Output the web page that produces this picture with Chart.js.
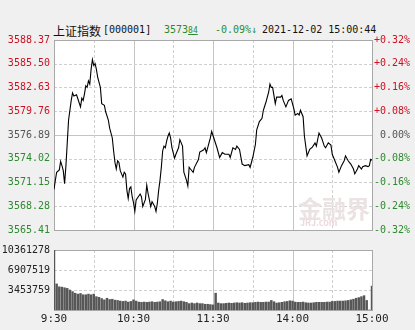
<!DOCTYPE html>
<html>
<head>
<meta charset="utf-8">
<script src="https://cdn.jsdelivr.net/npm/chart.js@4.4.1/dist/chart.umd.min.js"></script>
<style>
  body { margin: 0; background: #f0f0f0; width: 415px; height: 330px; overflow: hidden; position: relative; }
  canvas { position: absolute; left: 0; }
  #priceChart { top: 0; }
  #volChart { top: 240px; }
  .t { position: absolute; top: 24px; font: 10px "DejaVu Sans Mono", monospace; white-space: pre; }
  .cn { font: 12px "Noto Sans CJK SC", sans-serif; top: 22px; }
  .wm { position: absolute; color: #ebe2e3; font-weight: bold; font-family: "Noto Sans CJK SC", sans-serif; }
</style>
</head>
<body>
<div class="t cn" style="left:53px;color:#111">上证指数</div>
<div class="t" style="left:103px;color:#111">[000001]</div>
<div class="t" style="left:164px;color:#2f8a2f">3573<span style="font-size:8px;text-decoration:underline">84</span></div>
<div class="t" style="left:215px;color:#2f8a2f">-0.09%↓</div>
<div class="t" style="left:262px;color:#111">2021-12-02 15:00:44</div>
<canvas id="priceChart" width="415" height="240"></canvas>
<canvas id="volChart" width="415" height="90"></canvas>
<div class="wm" style="left:298px;top:190px;font-size:24px">金融界</div>
<div class="wm" style="left:300px;top:216px;font-size:9px;color:#efd9dc">JRJ.com</div>
<script>
// 上证指数 分时 2021-12-02
const prevClose = 3576.89;
const priceMinutes = [0,1,2,4,5,6,7,8,9,10,11,13,14,15,17,18,20,21,22,23,24,25,26,27,28,29,30,31,32,33,35,36,38,39,41,42,44,45,46,47,48,49,50,52,53,54,55,56,57,58,59,60,61,62,64,65,66,67,69,70,71,72,73,74,76,77,78,79,80,81,82,83,84,85,86,87,88,89,91,92,94,95,97,98,100,101,102,103,105,106,109,110,113,114,115,118,119,120,
  123,125,127,129,132,133,135,137,138,140,142,144,147,148,150,152,153,155,157,158,160,162,163,164,165,167,168,171,172,173,175,177,179,181,182,184,185,186,188,189,191,193,195,197,198,200,202,204,205,207,209,210,212,214,215,217,219,220,222,224,226,227,229,230,232,233,235,237,238,239,240];
const prices = [3570.30,3571.41,3572.39,3572.67,3573.69,3573.19,3572.59,3571.01,3573.19,3575.94,3578.70,3581.07,3581.98,3581.59,3581.74,3581.27,3580.29,3581.35,3581.07,3581.86,3582.84,3582.65,3583.43,3583.04,3584.82,3586.00,3585.29,3585.53,3584.82,3583.84,3582.65,3580.68,3580.48,3579.70,3578.70,3577.72,3576.53,3574.96,3573.58,3572.78,3573.78,3573.58,3572.59,3571.80,3572.39,3572.19,3570.23,3569.23,3570.42,3570.62,3569.43,3568.72,3567.66,3569.04,3569.52,3569.75,3569.43,3568.25,3569.11,3570.82,3569.82,3569.04,3568.25,3568.84,3568.25,3567.66,3568.64,3570.23,3571.41,3572.98,3574.96,3575.55,3575.35,3576.14,3576.74,3577.13,3576.53,3575.35,3574.09,3574.56,3575.35,3576.33,3575.55,3572.39,3571.41,3570.74,3573.00,3572.78,3572.39,3572.98,3573.93,3574.82,3575.11,3575.35,3574.76,3576.53,3577.33,3576.83,
  3575.35,3574.17,3574.76,3574.56,3574.56,3574.17,3575.35,3575.15,3575.55,3575.15,3573.38,3573.19,3573.30,3572.98,3574.17,3575.74,3577.52,3578.51,3578.90,3579.88,3580.88,3582.06,3583.04,3582.65,3582.65,3580.68,3581.47,3581.47,3581.66,3581.07,3580.29,3581.07,3581.27,3580.09,3579.29,3579.49,3579.29,3579.88,3579.10,3576.74,3574.37,3575.15,3575.43,3575.94,3575.55,3577.13,3576.53,3575.55,3575.35,3575.94,3575.67,3574.56,3573.78,3572.98,3572.39,3573.19,3573.78,3574.37,3573.78,3573.38,3572.78,3572.19,3572.78,3573.19,3572.78,3573.07,3573.19,3573.07,3573.19,3573.95,3573.84];

const volMinutes = [0,2,4,6,8,10,12,14,16,18,20,22,24,26,28,30,32,34,36,38,40,42,44,46,48,50,52,54,56,58,60,62,64,66,68,70,72,74,76,78,80,82,84,86,88,90,92,94,96,98,100,102,104,106,108,110,112,114,116,118,120,
  122,124,126,128,130,132,134,136,138,140,142,144,146,148,150,152,154,156,158,160,162,164,166,168,170,172,174,176,178,180,182,184,186,188,190,192,194,196,198,200,202,204,206,208,210,212,214,216,218,220,222,224,226,228,230,232,234,236,238,240];
const volumes = [10361278,4500000,4000000,3950000,3840000,3730000,3450000,3180000,2900000,2740000,2850000,2630000,2630000,2740000,2630000,2740000,2300000,2190000,1970000,1750000,2030000,1810000,1860000,1700000,1650000,1540000,1480000,1540000,1370000,1480000,1750000,1540000,1370000,1320000,1370000,1320000,1370000,1430000,1320000,1370000,1430000,1810000,1590000,1430000,1540000,1370000,1430000,1480000,1540000,1430000,1320000,1100000,1210000,1100000,1210000,1100000,1100000,990000,990000,930000,880000,
  2900000,1210000,1100000,1100000,1150000,1210000,1150000,1210000,1260000,1210000,1260000,1150000,1210000,1260000,1260000,1320000,1370000,1320000,1320000,1370000,1370000,1650000,1430000,1210000,1260000,1320000,1430000,1480000,1590000,1540000,1370000,1320000,1320000,1370000,1260000,1210000,1210000,1260000,1320000,1320000,1320000,1320000,1370000,1370000,1480000,1480000,1540000,1540000,1540000,1590000,1650000,1750000,1860000,2030000,2140000,2300000,2470000,1650000,0,4110000];

const priceTicks = [3565.41,3568.28,3571.15,3574.02,3576.89,3579.76,3582.63,3585.50,3588.37];
const pctLabels = ['-0.32%','-0.24%','-0.16%','-0.08%','0.00%','+0.08%','+0.16%','+0.24%','+0.32%'];
const volTicks = [0,3453759,6907519,10361278];
const timeTicks = [0,60,120,180,240];
const timeLabels = ['9:30','10:30','11:30','14:00','15:00'];
const gridMinutes = [30,60,90,120,150,180,210];

const RED = '#cc1122', GREEN = '#2f8a2f', GRAY = '#555555';
const monoFont = { family: 'DejaVu Sans Mono', size: 10 };

function tickColor(v) {
  if (Math.abs(v - prevClose) < 0.01) return GRAY;
  return v > prevClose ? RED : GREEN;
}

// grid lines + frame, drawn off the chart's own scales
const gridPlugin = {
  id: 'quoteGrid',
  beforeDatasetsDraw(chart, args, opts) {
    const { ctx, chartArea: a, scales } = chart;
    ctx.save();
    ctx.fillStyle = '#ffffff';
    ctx.fillRect(a.left, a.top, a.right - a.left, a.bottom - a.top);
    ctx.lineWidth = 1;
    gridMinutes.forEach(m => {
      const px = Math.round(scales.x.getPixelForValue(m)) + 0.5;
      ctx.strokeStyle = m % 60 === 0 ? '#c4c4c4' : '#cfcfcf';
      ctx.setLineDash(m % 60 === 0 ? [] : [3, 2]);
      ctx.beginPath(); ctx.moveTo(px, a.top); ctx.lineTo(px, a.bottom); ctx.stroke();
    });
    opts.hLines.forEach(v => {
      const py = Math.round(scales.y.getPixelForValue(v)) + 0.5;
      const solid = opts.solidAt !== undefined && Math.abs(v - opts.solidAt) < 0.01;
      ctx.strokeStyle = solid ? '#c4c4c4' : '#cfcfcf';
      ctx.setLineDash(solid ? [] : [3, 2]);
      ctx.beginPath(); ctx.moveTo(a.left, py); ctx.lineTo(a.right, py); ctx.stroke();
    });
    ctx.setLineDash([]);
    ctx.strokeStyle = '#a8a8a8';
    ctx.strokeRect(Math.round(a.left) + 0.5, Math.round(a.top) + 0.5, Math.round(a.right - a.left), Math.round(a.bottom - a.top));
    ctx.restore();
  }
};

new Chart(document.getElementById('priceChart'), {
  type: 'line',
  data: {
    datasets: [{
      data: priceMinutes.map((m, i) => ({ x: m, y: prices[i] })),
      borderColor: '#000000',
      borderWidth: 1.1,
      pointRadius: 0,
      tension: 0
    }]
  },
  options: {
    responsive: false,
    animation: false,
    devicePixelRatio: 1,
    layout: { padding: { top: 40, bottom: 6, left: 0, right: 5 } },
    plugins: {
      legend: { display: false },
      tooltip: { enabled: false },
      quoteGrid: { hLines: priceTicks.slice(1, -1), solidAt: prevClose }
    },
    scales: {
      x: { type: 'linear', min: 0, max: 240, display: false },
      y: {
        position: 'left', min: priceTicks[0], max: priceTicks[priceTicks.length - 1],
        afterBuildTicks: s => { s.ticks = priceTicks.map(v => ({ value: v })); },
        afterFit: s => { s.width = 54; },
        grid: { display: false, drawTicks: false, tickLength: 0 },
        border: { display: false },
        ticks: { padding: 4, font: monoFont, color: c => tickColor(c.tick.value), callback: v => v.toFixed(2) }
      },
      y2: {
        position: 'right', min: priceTicks[0], max: priceTicks[priceTicks.length - 1],
        afterBuildTicks: s => { s.ticks = priceTicks.map(v => ({ value: v })); },
        afterFit: s => { s.width = 38; },
        grid: { display: false, drawTicks: false, tickLength: 0 },
        border: { display: false },
        ticks: { padding: 2, crossAlign: 'far', font: monoFont, color: c => tickColor(c.tick.value),
          callback: (v, i) => pctLabels[i] }
      }
    }
  },
  plugins: [gridPlugin]
});

new Chart(document.getElementById('volChart'), {
  type: 'bar',
  data: {
    datasets: [{
      data: volMinutes.map((m, i) => ({ x: m, y: volumes[i] })),
      backgroundColor: '#575757',
      barThickness: 1.8,
      borderWidth: 0
    }]
  },
  options: {
    responsive: false,
    animation: false,
    devicePixelRatio: 1,
    layout: { padding: { top: 7, bottom: 0, left: 0, right: 43 } },
    plugins: {
      legend: { display: false },
      tooltip: { enabled: false },
      quoteGrid: { hLines: volTicks.slice(1, -1) }
    },
    scales: {
      x: {
        type: 'linear', min: 0, max: 240, offset: false,
        afterBuildTicks: s => { s.ticks = timeTicks.map(v => ({ value: v })); },
        afterFit: s => { s.height = 20; },
        grid: { display: false, drawTicks: false, tickLength: 0 },
        border: { display: false },
        ticks: { padding: 3, maxRotation: 0, autoSkip: false, font: { family: 'DejaVu Sans Mono', size: 11 }, color: '#222',
          callback: (v, i) => timeLabels[i] }
      },
      y: {
        min: 0, max: volTicks[volTicks.length - 1],
        afterBuildTicks: s => { s.ticks = volTicks.map(v => ({ value: v })); },
        afterFit: s => { s.width = 54; },
        grid: { display: false, drawTicks: false, tickLength: 0 },
        border: { display: false },
        ticks: { padding: 4, font: monoFont, color: '#222', callback: v => v === 0 ? '' : String(v) }
      }
    }
  },
  plugins: [gridPlugin]
});
</script>
</body>
</html>
